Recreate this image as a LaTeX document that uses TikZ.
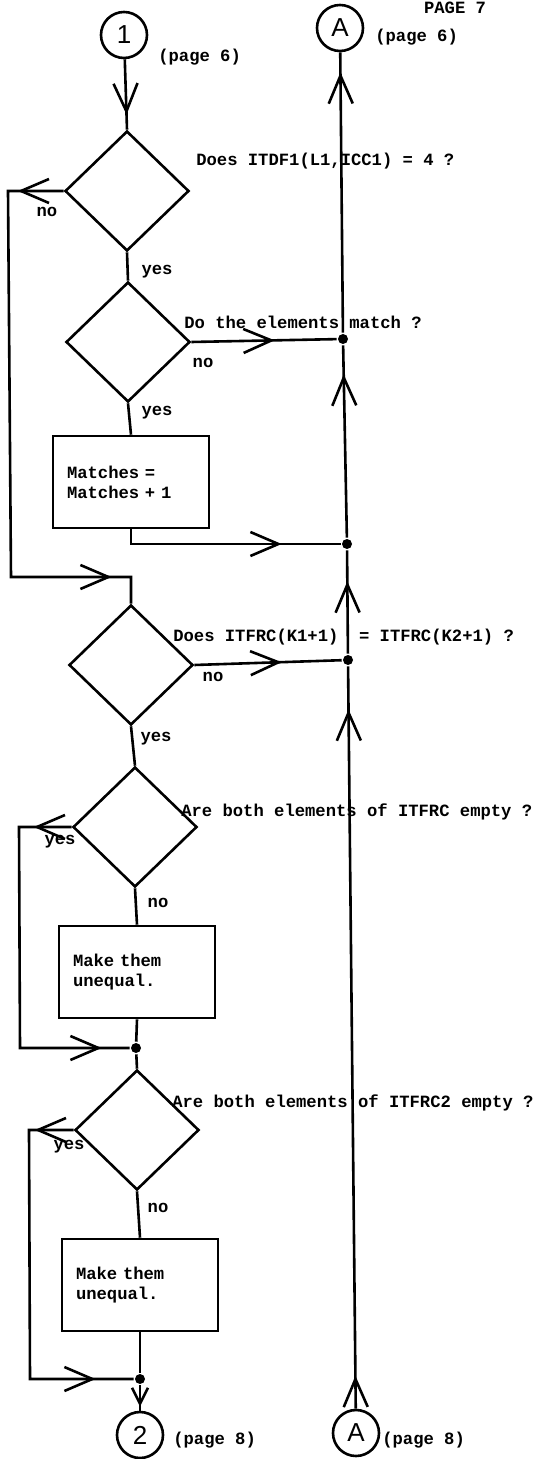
\documentclass[tikz,border=0pt]{standalone}
\usepackage{fontspec}
\setmainfont{Liberation Serif}
\setsansfont{Liberation Sans}
\setmonofont{Liberation Mono}
\usetikzlibrary{shapes.geometric,arrows.meta,positioning,decorations.markings}

\begin{document}
\begin{tikzpicture}[x=0.5pt,y=-0.5pt,line width=1.3pt,
  decision/.style={draw,diamond,minimum width=62pt,minimum height=60pt,inner sep=0pt},
  process/.style={draw,rectangle,minimum width=78pt,minimum height=46pt,text width=64pt,
                  inner xsep=7pt,align=left,font=\ttfamily\bfseries\fontsize{8.6}{10}\selectfont},
  conn/.style={draw,circle,minimum size=23pt,inner sep=0pt,
               font=\sffamily\fontsize{13}{13}\selectfont},
  junc/.style={circle,fill,minimum size=5pt,inner sep=0pt},
  txt/.style={font=\ttfamily\bfseries\fontsize{8.6}{10}\selectfont,inner sep=0pt},
  arrat/.style={postaction={decorate,decoration={markings,
      mark=at position #1 with {\arrow{Straight Barb[length=14pt,width=12pt]}}}}},
  arrsmall/.style={postaction={decorate,decoration={markings,
      mark=at position #1 with {\arrow{Straight Barb[length=8pt,width=8pt]}}}}}
]
  \useasboundingbox (0,0) rectangle (535,1459);

  % Off-page connectors
  \node[txt] (pg) at (455,8) {PAGE 7};
  \node[conn] (c1) at (124,35) {1};
  \node[txt,anchor=west] (c1p) at (157,57) {(page 6)};
  \node[conn] (atop) at (340,28) {A};
  \node[txt,anchor=west] (atopp) at (374,37) {(page 6)};
  \node[conn] (c2) at (140,1435) {2};
  \node[txt,anchor=west] (c2p) at (172,1440) {(page 8)};
  \node[conn] (abot) at (356,1433) {A};
  \node[txt,anchor=west] (abotp) at (381,1440) {(page 8)};

  % Decisions and boxes
  \node[decision] (d1) at (127,191) {};
  \node[decision] (d2) at (128,342) {};
  \node[process]  (b1) at (131,482) {Matches =\\Matches + 1};
  \node[decision] (d3) at (131,665) {};
  \node[decision] (d4) at (135,827) {};
  \node[process]  (b2) at (137,972) {Make them\\unequal.};
  \node[decision] (d5) at (137,1130) {};
  \node[process]  (b3) at (140,1285) {Make them\\unequal.};

  % Questions
  \node[txt,anchor=west] (q1) at (195,161) {Does ITDF1(L1,ICC1) = 4 ?};
  \node[txt,anchor=west] (q2) at (183,322) {Do the elements match ?};
  \node[txt,anchor=west] (q3) at (172,637) {Does ITFRC(K1+1)\ \ = ITFRC(K2+1) ?};
  \node[txt,anchor=west] (q4) at (180,812) {Are both elements of ITFRC empty ?};
  \node[txt,anchor=west] (q5) at (171,1103) {Are both elements of ITFRC2 empty ?};

  % yes / no
  \node[txt] (n1) at (47,212)  {no};
  \node[txt] (y1) at (157,272) {yes};
  \node[txt] (n2) at (203,363) {no};
  \node[txt] (y2) at (157,413) {yes};
  \node[txt] (n3) at (213,677) {no};
  \node[txt] (y3) at (156,739) {yes};
  \node[txt] (y4) at (60,842)  {yes};
  \node[txt] (n4) at (158,903) {no};
  \node[txt] (y5) at (69,1147) {yes};
  \node[txt] (n5) at (158,1208) {no};

  % Junctions and corners
  \node[junc] (j1) at (343,339) {};
  \node[junc] (j2) at (347,544) {};
  \node[junc] (j3) at (348,660) {};
  \node[junc] (k1) at (136,1048) {};
  \node[junc] (k2) at (140,1379) {};
  \coordinate (l1a) at (8,191);
  \coordinate (l1b) at (11,577);
  \coordinate (l2a) at (19,827);
  \coordinate (l2b) at (20,1048);
  \coordinate (l3a) at (29,1130);
  \coordinate (l3b) at (30,1379);

  % Left column
  \draw[arrat=-7.5pt] (c1) -- (d1.north);
  \draw (d1.south) -- (d2.north);
  \draw (d2.south) -- (b1.north);
  \draw[arrat=23pt,arrat=-23pt] (d1.west) -- (l1a) -- (l1b) -- (l1b -| d3.north) -- (d3.north);
  \draw (d3.south) -- (d4.north);
  \draw (d4.south) -- (b2.north);
  \draw[arrat=19pt,arrat=-14pt] (d4.west) -- (l2a) -- (l2b) -- (k1);
  \draw (b2.south) -- (k1);
  \draw (k1) -- (d5.north);
  \draw (d5.south) -- (b3.north);
  \draw[arrat=19.5pt,arrat=-19pt] (d5.west) -- (l3a) -- (l3b) -- (k2);
  \draw (b3.south) -- (k2);
  \draw[arrsmall=-2pt] (k2) -- (c2);

  % Branches to the right
  \draw[arrat=-31pt] (d2.east) -- (j1);
  \draw[arrat=-29.5pt] (b1.south) |- (j2);
  \draw[arrat=-30pt] (d3.east) -- (j3);

  % Return line
  \draw[arrat=16.5pt,arrat=-21.5pt] (abot) -- (j3);
  \draw[arrat=-15.5pt] (j3) -- (j2);
  \draw[arrat=-14.5pt] (j2) -- (j1);
  \draw[arrat=-10pt] (j1) -- (atop);
\end{tikzpicture}
\end{document}
